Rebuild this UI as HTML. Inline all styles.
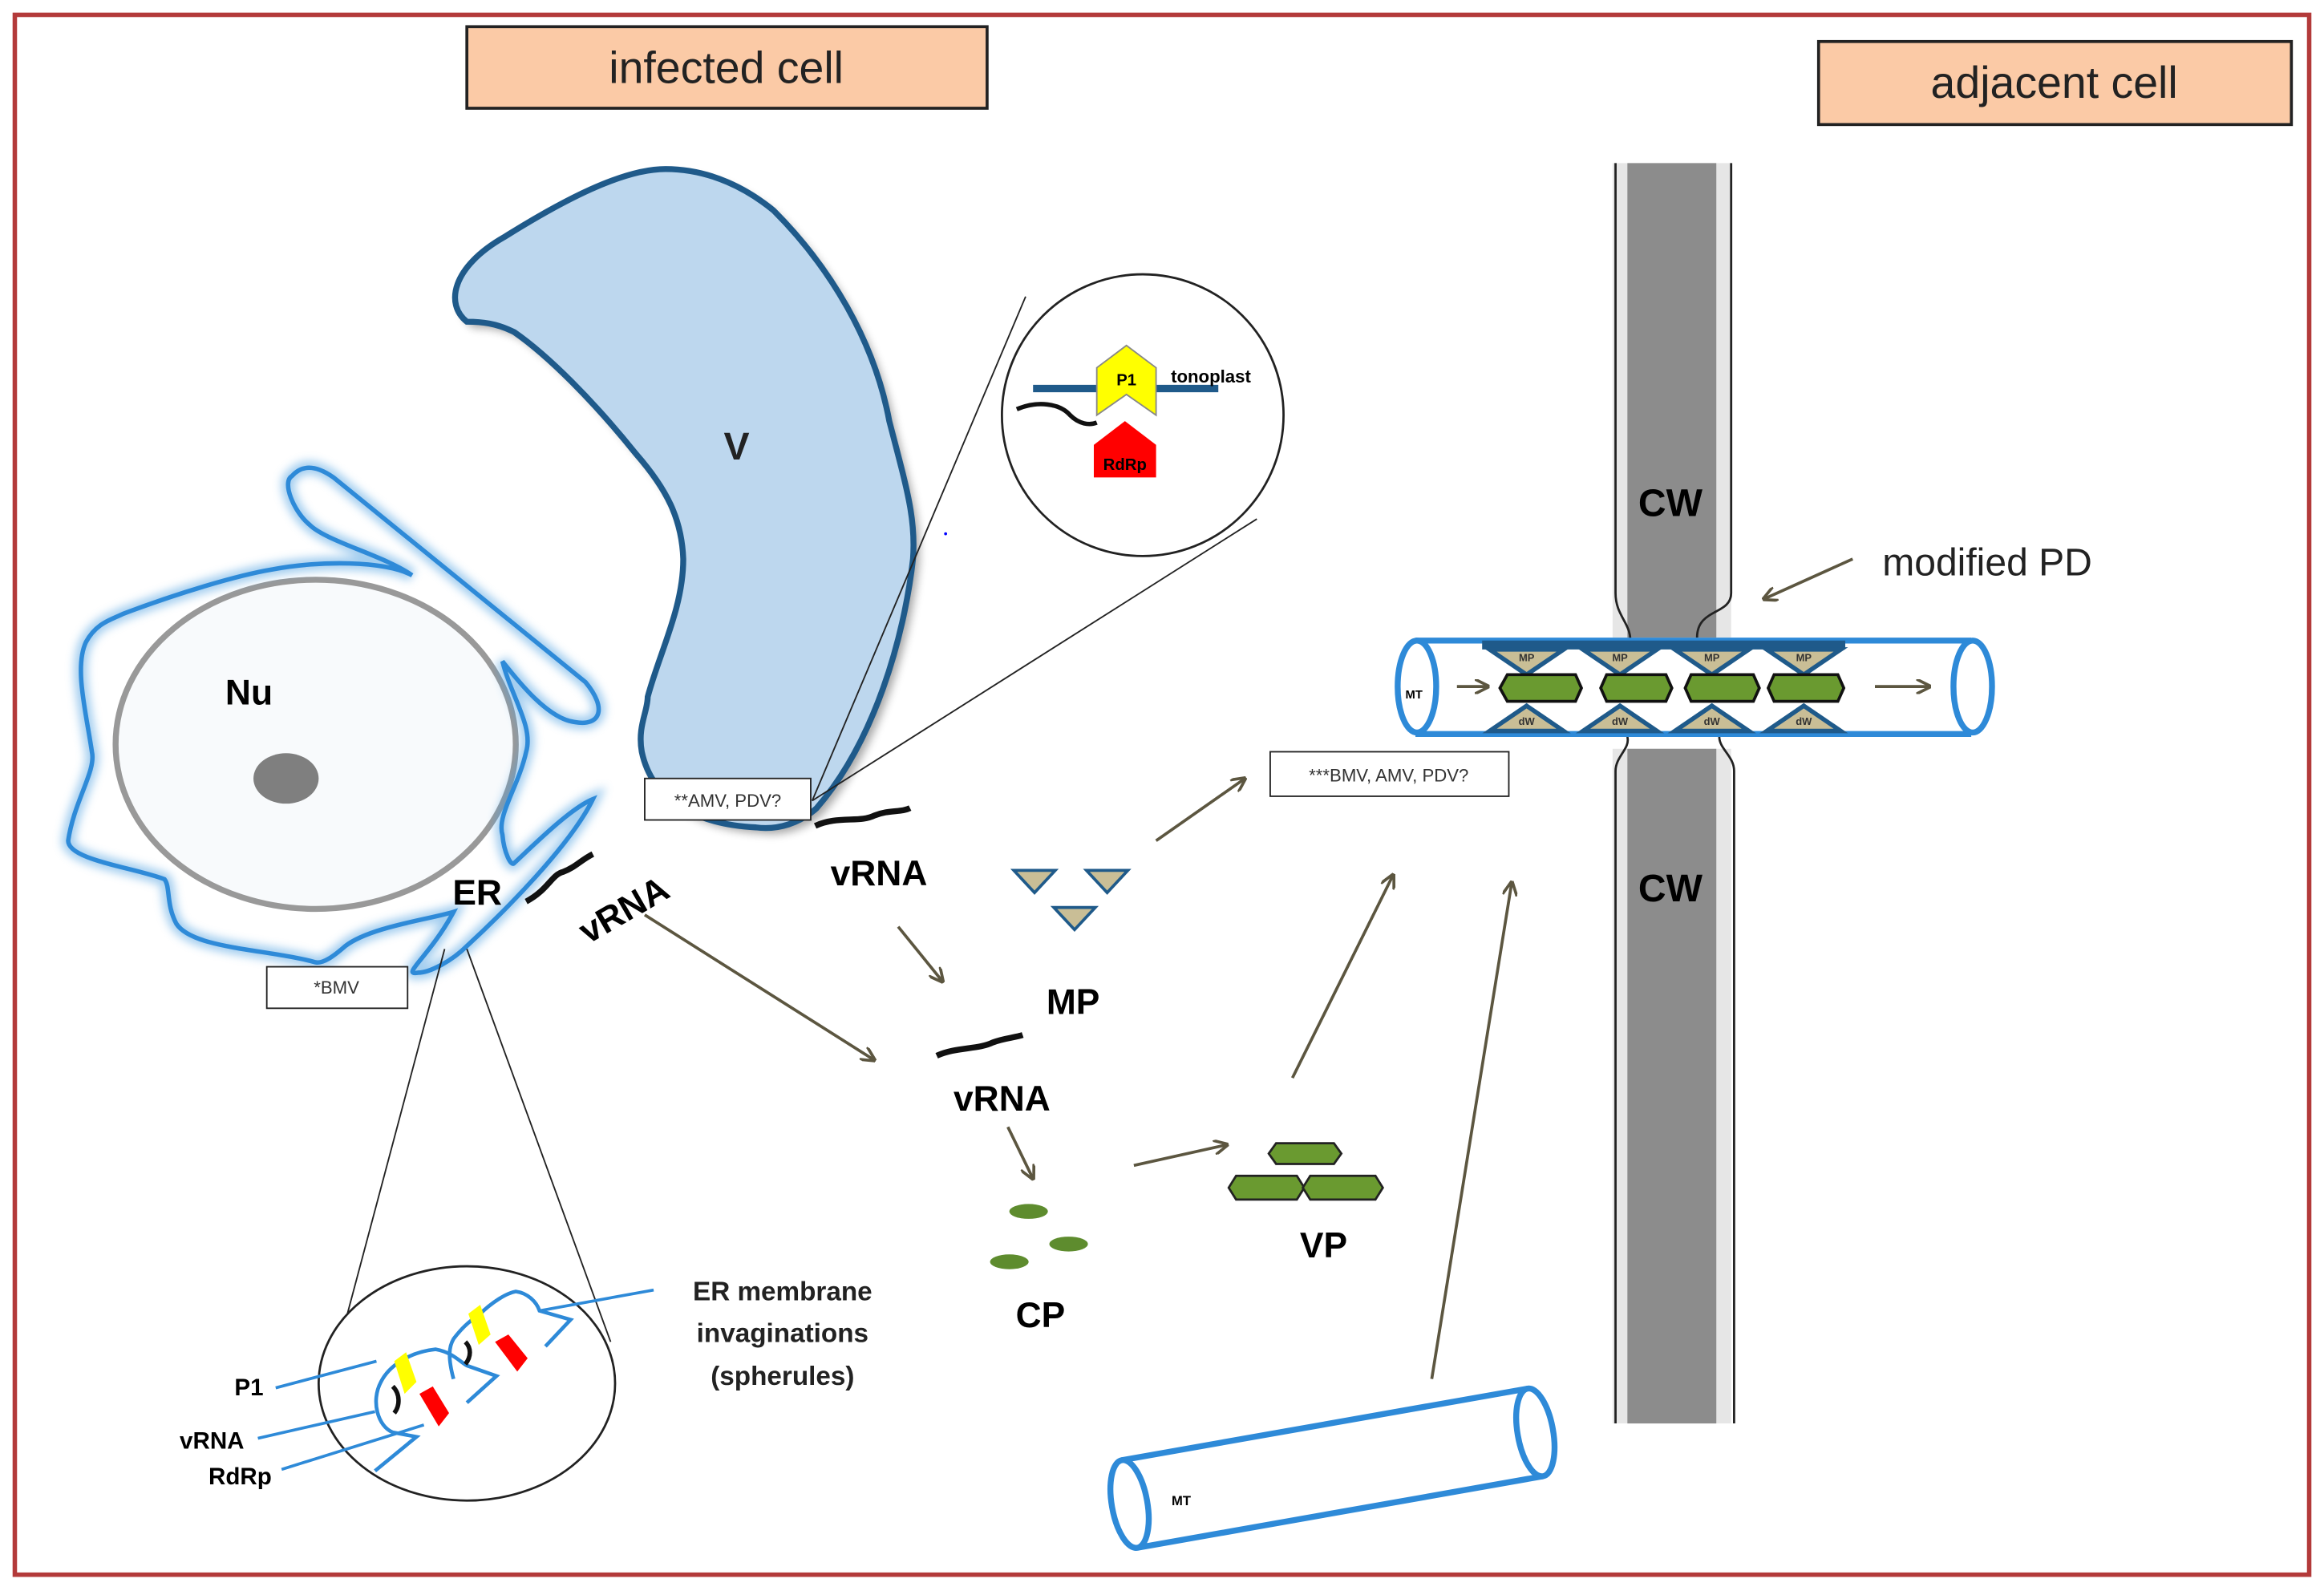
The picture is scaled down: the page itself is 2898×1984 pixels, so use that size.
<!DOCTYPE html>
<html><head><meta charset="utf-8"><style>
html,body{margin:0;padding:0;background:#fff}
svg{display:block}
text{font-family:"Liberation Sans",sans-serif}
</style></head><body>
<svg width="2898" height="1984" viewBox="0 0 1568 1073" preserveAspectRatio="none" xmlns="http://www.w3.org/2000/svg">
<defs>
<marker id="ah" markerWidth="10" markerHeight="10" refX="9" refY="5" orient="auto" markerUnits="userSpaceOnUse" viewBox="0 0 10 10">
<path d="M0,0 L10,5 L0,10" fill="none" stroke="#5c5640" stroke-width="2"/>
</marker>
<filter id="glow" x="-20%" y="-20%" width="140%" height="140%"><feGaussianBlur stdDeviation="3"/></filter>
<filter id="sh" x="-20%" y="-20%" width="140%" height="140%"><feGaussianBlur stdDeviation="3"/></filter>
</defs>
<rect x="0" y="0" width="1568" height="1073" fill="#fff"/>
<rect x="10" y="10" width="1548" height="1052" fill="none" stroke="#b33a3a" stroke-width="3"/>

<!-- title boxes -->
<rect x="315" y="18" width="351" height="55" fill="#fbcaa6" stroke="#222" stroke-width="2"/>
<text x="490" y="56" font-size="30" text-anchor="middle" fill="#222">infected cell</text>
<rect x="1227" y="28" width="319" height="56" fill="#fbcaa6" stroke="#222" stroke-width="2"/>
<text x="1386" y="66" font-size="30" text-anchor="middle" fill="#222">adjacent cell</text>

<!-- vacuole -->
<path id="vac" d="M315,217 C300,205 305,180 340,160 C380,135 420,114 449,114 C480,114 505,128 522,142 C560,180 590,230 600,284 C612,330 618,350 616,377 C610,430 590,500 551,545 C540,555 525,560 510,558 C470,556 440,540 433,507 C430,490 437,480 437,470 C445,440 461,410 461,377 C460,350 450,330 429,306 C400,270 370,240 347,224 C335,218 325,217 315,217 Z" fill="#000" opacity="0.35" filter="url(#sh)" transform="translate(4,4)"/>
<path d="M315,217 C300,205 305,180 340,160 C380,135 420,114 449,114 C480,114 505,128 522,142 C560,180 590,230 600,284 C612,330 618,350 616,377 C610,430 590,500 551,545 C540,555 525,560 510,558 C470,556 440,540 433,507 C430,490 437,480 437,470 C445,440 461,410 461,377 C460,350 450,330 429,306 C400,270 370,240 347,224 C335,218 325,217 315,217 Z" fill="#bdd7ee" stroke="#1f5a8a" stroke-width="4"/>
<text x="497" y="310" font-size="26" font-weight="bold" text-anchor="middle" fill="#222">V</text>

<!-- zoom circle top -->
<line x1="548" y1="540" x2="692" y2="200" stroke="#222" stroke-width="1"/>
<line x1="548" y1="540" x2="848" y2="350" stroke="#222" stroke-width="1"/>
<circle cx="771" cy="280" r="95" fill="#fff" stroke="#222" stroke-width="1.5"/>
<line x1="697" y1="262" x2="822" y2="262" stroke="#1f5a8a" stroke-width="5"/>
<path d="M740,248 L760,233 L780,248 L780,280 L760,266 L740,280 Z" fill="#ffff00" stroke="#888" stroke-width="1"/>
<text x="760" y="260" font-size="11" font-weight="bold" text-anchor="middle">P1</text>
<path d="M738,300 L759,284 L780,300 L780,322 L738,322 Z" fill="#ff0000"/>
<text x="759" y="317" font-size="11" font-weight="bold" text-anchor="middle">RdRp</text>
<path d="M686,276 C700,270 715,272 722,280 C728,286 735,287 740,285" fill="none" stroke="#111" stroke-width="3"/>
<text x="790" y="258" font-size="12" font-weight="bold">tonoplast</text>

<!-- ER + nucleus -->
<ellipse cx="213" cy="502" rx="135" ry="111" fill="#f8fafc" stroke="#999" stroke-width="4"/>
<ellipse cx="193" cy="525" rx="22" ry="17" fill="#7f7f7f"/>
<g fill="none">
<path id="er" d="M213,649 C180,640 130,640 119,623 C112,610 115,598 111,593 C90,585 46,580 46,567 C50,540 65,520 62,507 C58,480 50,450 58,433 C65,420 75,418 83,414 C120,400 160,388 184,384 C215,378 260,378 278,388 C260,375 220,365 209,354 C198,345 190,325 197,321 C205,312 215,315 225,322 L395,460 C410,478 405,490 388,487 C370,485 350,460 339,446 C345,470 360,490 355,507 C350,530 335,550 339,563 C340,575 345,585 347,582 C360,570 385,545 400,539 C385,570 340,615 315,638 C305,648 290,656 282,656 C270,658 290,645 306,615 C290,620 250,625 233,638 C225,645 218,650 213,649 Z" stroke="#4a9ee0" stroke-width="9" filter="url(#glow)" opacity="0.5"/>
<path d="M213,649 C180,640 130,640 119,623 C112,610 115,598 111,593 C90,585 46,580 46,567 C50,540 65,520 62,507 C58,480 50,450 58,433 C65,420 75,418 83,414 C120,400 160,388 184,384 C215,378 260,378 278,388 C260,375 220,365 209,354 C198,345 190,325 197,321 C205,312 215,315 225,322 L395,460 C410,478 405,490 388,487 C370,485 350,460 339,446 C345,470 360,490 355,507 C350,530 335,550 339,563 C340,575 345,585 347,582 C360,570 385,545 400,539 C385,570 340,615 315,638 C305,648 290,656 282,656 C270,658 290,645 306,615 C290,620 250,625 233,638 C225,645 218,650 213,649 Z" stroke="#2e8ad8" stroke-width="3"/>
</g>
<text x="168" y="475" font-size="24" font-weight="bold" text-anchor="middle">Nu</text>
<text x="322" y="610" font-size="24" font-weight="bold" text-anchor="middle">ER</text>
<path d="M355,608 C370,600 372,590 380,588 C388,585 392,580 400,576" fill="none" stroke="#111" stroke-width="4"/>
<text x="420" y="622" font-size="24" font-weight="bold" text-anchor="middle" transform="rotate(-30 420 612)">vRNA</text>

<!-- note boxes -->
<rect x="180" y="652" width="95" height="28" fill="#fff" stroke="#222" stroke-width="1"/>
<text x="227" y="670" font-size="12" text-anchor="middle" fill="#333">*BMV</text>
<rect x="435" y="525" width="112" height="28" fill="#fff" stroke="#222" stroke-width="1"/>
<text x="491" y="544" font-size="12" text-anchor="middle" fill="#333">**AMV, PDV?</text>
<rect x="857" y="507" width="161" height="30" fill="#fff" stroke="#222" stroke-width="1"/>
<text x="937" y="527" font-size="12" text-anchor="middle" fill="#333">***BMV, AMV, PDV?</text>

<!-- lower zoom circle -->
<line x1="300" y1="640" x2="232" y2="895" stroke="#222" stroke-width="1"/>
<line x1="315" y1="640" x2="412" y2="905" stroke="#222" stroke-width="1"/>
<ellipse cx="315" cy="933" rx="100" ry="79" fill="#fff" stroke="#222" stroke-width="1.5"/>
<path d="M253,992 L281,969 L265,966 C255,962 250,945 257,932 C262,922 275,912 294,910 C305,912 310,918 315,921 L335,928 L315,946 M306,930 C302,915 303,908 306,903 C312,895 318,890 323,887 C332,878 342,872 348,871 C356,872 362,878 364,884 L385,890 L368,908" fill="none" stroke="#2e8ad8" stroke-width="2.5"/>
<line x1="364" y1="884" x2="441" y2="870" stroke="#2e8ad8" stroke-width="2"/>
<path d="M266,918 L274,912 L281,932 L273,940 Z" fill="#ffff00"/>
<path d="M316,886 L324,880 L331,900 L323,907 Z" fill="#ffff00"/>
<path d="M283,940 L292,935 L303,953 L296,962 Z" fill="#ff0000"/>
<path d="M334,905 L343,900 L356,916 L349,925 Z" fill="#ff0000"/>
<path d="M265,935 C270,940 270,948 266,953" fill="none" stroke="#111" stroke-width="3"/>
<path d="M314,905 C318,909 318,915 314,920" fill="none" stroke="#111" stroke-width="3"/>
<line x1="186" y1="936" x2="254" y2="918" stroke="#2e8ad8" stroke-width="2"/>
<line x1="174" y1="970" x2="253" y2="952" stroke="#2e8ad8" stroke-width="2"/>
<line x1="190" y1="991" x2="286" y2="961" stroke="#2e8ad8" stroke-width="2"/>
<text x="168" y="941" font-size="16" font-weight="bold" text-anchor="middle">P1</text>
<text x="143" y="977" font-size="16" font-weight="bold" text-anchor="middle">vRNA</text>
<text x="162" y="1001" font-size="16" font-weight="bold" text-anchor="middle">RdRp</text>
<text x="528" y="877" font-size="18" font-weight="bold" text-anchor="middle" fill="#222">ER membrane</text>
<text x="528" y="905" font-size="18" font-weight="bold" text-anchor="middle" fill="#222">invaginations</text>
<text x="528" y="934" font-size="18" font-weight="bold" text-anchor="middle" fill="#222">(spherules)</text>

<!-- middle components -->
<path d="M550,557 C565,550 580,555 590,550 C600,546 608,548 614,545" fill="none" stroke="#111" stroke-width="4"/>
<text x="593" y="597" font-size="24" font-weight="bold" text-anchor="middle">vRNA</text>
<path d="M632,712 C645,706 660,708 670,703 C678,700 684,700 690,698" fill="none" stroke="#111" stroke-width="4"/>
<text x="676" y="749" font-size="24" font-weight="bold" text-anchor="middle">vRNA</text>
<path d="M684,587 L712,587 L698,602 Z" fill="#c9be96" stroke="#1f5a8a" stroke-width="2"/>
<path d="M733,587 L761,587 L747,602 Z" fill="#c9be96" stroke="#1f5a8a" stroke-width="2"/>
<path d="M711,612 L739,612 L725,627 Z" fill="#c9be96" stroke="#1f5a8a" stroke-width="2"/>
<text x="724" y="684" font-size="24" font-weight="bold" text-anchor="middle">MP</text>
<ellipse cx="694" cy="817" rx="13" ry="5" fill="#5e8c2e"/>
<ellipse cx="721" cy="839" rx="13" ry="5" fill="#5e8c2e"/>
<ellipse cx="681" cy="851" rx="13" ry="5" fill="#5e8c2e"/>
<text x="702" y="895" font-size="24" font-weight="bold" text-anchor="middle">CP</text>
<path d="M861,771 L900,771 L905,778 L900,785 L861,785 L856,778 Z" fill="#6a9a30" stroke="#222" stroke-width="1.5"/>
<path d="M834,793 L875,793 L880,801 L875,809 L834,809 L829,801 Z" fill="#6a9a30" stroke="#222" stroke-width="1.5"/>
<path d="M884,793 L928,793 L933,801 L928,809 L884,809 L879,801 Z" fill="#6a9a30" stroke="#222" stroke-width="1.5"/>
<text x="893" y="848" font-size="24" font-weight="bold" text-anchor="middle">VP</text>

<!-- arrows -->
<g stroke="#5c5640" stroke-width="2" marker-end="url(#ah)">
<line x1="435" y1="617" x2="590" y2="715"/>
<line x1="606" y1="625" x2="636" y2="662"/>
<line x1="680" y1="760" x2="697" y2="795"/>
<line x1="765" y1="786" x2="828" y2="772"/>
<line x1="780" y1="567" x2="840" y2="525"/>
<line x1="872" y1="727" x2="940" y2="590"/>
<line x1="966" y1="930" x2="1020" y2="595"/>
<line x1="1250" y1="377" x2="1190" y2="404"/>
</g>

<!-- cell wall -->
<rect x="1088" y="110" width="80" height="320" fill="#e6e6e6"/>
<rect x="1098" y="110" width="60" height="320" fill="#8c8c8c"/>
<rect x="1088" y="505" width="80" height="455" fill="#e6e6e6"/>
<rect x="1098" y="505" width="60" height="455" fill="#8c8c8c"/>
<path d="M1090,110 L1090,400 C1090,415 1100,420 1100,432" fill="none" stroke="#222" stroke-width="1.5"/>
<path d="M1168,110 L1168,400 C1168,415 1145,410 1145,430" fill="none" stroke="#222" stroke-width="1.5"/>
<path d="M1090,960 L1090,520 C1090,510 1100,505 1098,497" fill="none" stroke="#222" stroke-width="1.5"/>
<path d="M1170,960 L1170,520 C1170,510 1160,505 1160,497" fill="none" stroke="#222" stroke-width="1.5"/>
<text x="1127" y="348" font-size="26" font-weight="bold" text-anchor="middle">CW</text>
<text x="1127" y="608" font-size="26" font-weight="bold" text-anchor="middle">CW</text>
<text x="1270" y="388" font-size="26" fill="#222">modified PD</text>

<!-- PD tube -->
<rect x="955" y="432" width="375" height="63" fill="#fff"/>
<line x1="955" y1="432" x2="1330" y2="432" stroke="#2e8ad8" stroke-width="4"/>
<line x1="955" y1="495" x2="1330" y2="495" stroke="#2e8ad8" stroke-width="4"/>
<ellipse cx="956" cy="463" rx="13" ry="31" fill="#fff" stroke="#2e8ad8" stroke-width="4"/>
<ellipse cx="1331" cy="463" rx="13" ry="31" fill="#fff" stroke="#2e8ad8" stroke-width="4"/>
<rect x="1000" y="432" width="245" height="6" fill="#1f5a8a"/>
<g stroke="#1f5a8a" stroke-width="3" fill="#c9be96">
<path d="M1005,438 L1055,438 L1030,455 Z"/><path d="M1068,438 L1118,438 L1093,455 Z"/><path d="M1130,438 L1180,438 L1155,455 Z"/><path d="M1192,438 L1242,438 L1217,455 Z"/>
<path d="M1005,493 L1055,493 L1030,476 Z"/><path d="M1068,493 L1118,493 L1093,476 Z"/><path d="M1130,493 L1180,493 L1155,476 Z"/><path d="M1192,493 L1242,493 L1217,476 Z"/>
</g>
<g font-size="7" font-weight="bold" text-anchor="middle" fill="#333">
<text x="1030" y="446">MP</text><text x="1093" y="446">MP</text><text x="1155" y="446">MP</text><text x="1217" y="446">MP</text>
<text x="1030" y="489">dW</text><text x="1093" y="489">dW</text><text x="1155" y="489">dW</text><text x="1217" y="489">dW</text>
</g>
<g fill="#6a9a30" stroke="#111" stroke-width="2">
<path d="M1017,455 L1063,455 L1067,464 L1063,473 L1017,473 L1012,464 Z"/>
<path d="M1084,455 L1124,455 L1128,464 L1124,473 L1084,473 L1080,464 Z"/>
<path d="M1141,455 L1183,455 L1187,464 L1183,473 L1141,473 L1137,464 Z"/>
<path d="M1197,455 L1240,455 L1244,464 L1240,473 L1197,473 L1193,464 Z"/>
</g>
<text x="954" y="471" font-size="8" font-weight="bold" text-anchor="middle">MT</text>
<g stroke="#5c5640" stroke-width="2" marker-end="url(#ah)">
<line x1="983" y1="463" x2="1004" y2="463"/>
<line x1="1265" y1="463" x2="1302" y2="463"/>
</g>

<!-- MT bottom -->
<g transform="rotate(-10 900 990)">
<rect x="760" y="960" width="278" height="60" fill="#fff"/>
<line x1="760" y1="960" x2="1038" y2="960" stroke="#2e8ad8" stroke-width="4"/>
<line x1="760" y1="1020" x2="1038" y2="1020" stroke="#2e8ad8" stroke-width="4"/>
<ellipse cx="760" cy="990" rx="12" ry="30" fill="#fff" stroke="#2e8ad8" stroke-width="4"/>
<ellipse cx="1038" cy="990" rx="12" ry="30" fill="#fff" stroke="#2e8ad8" stroke-width="4"/>
</g>
<text x="797" y="1015" font-size="9" font-weight="bold" text-anchor="middle">MT</text>
<circle cx="638" cy="360" r="1" fill="#00f"/>
</svg>
</body></html>
